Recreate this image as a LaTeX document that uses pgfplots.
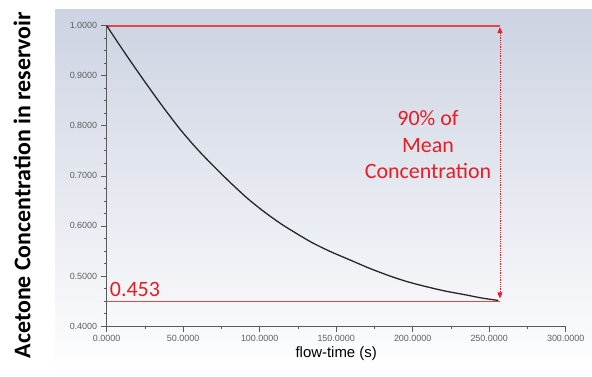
\documentclass[border=0pt]{standalone}
\usepackage{pgfplots}
\pgfplotsset{compat=1.18}
\usepackage{fontspec}
\setmainfont{Liberation Sans}
\newfontfamily\calfont{Carlito}
\usetikzlibrary{arrows.meta}
\definecolor{panelTop}{RGB}{204,211,226}
\definecolor{ticktext}{RGB}{95,95,95}
\definecolor{axisgrey}{RGB}{90,90,90}
\definecolor{annred}{RGB}{232,28,36}
\definecolor{refred}{RGB}{232,70,70}
\begin{document}
\begin{tikzpicture}[x=1bp,y=1bp]
\useasboundingbox (0,0) rectangle (592,376);
\shade[top color=panelTop, bottom color=white] (55,0) rectangle (592,366);
\node[rotate=90, font=\calfont\bfseries\fontsize{24}{26}\selectfont, anchor=center] at (22,191) {Acetone Concentration in reservoir};
\begin{axis}[
  at={(106.7bp,50bp)}, anchor=south west,
  scale only axis, width=459bp, height=300.3bp,
  xmin=0, xmax=300, ymin=0.4, ymax=1.0,
  axis x line*=bottom, axis y line*=left,
  axis line style={axisgrey, line width=0.8pt},
  xtick={0,50,...,300}, ytick={0.4,0.5,...,1.0},
  minor x tick num=1, minor y tick num=3,
  tick align=outside,
  major tick length=6bp, minor tick length=3bp,
  tick style={axisgrey, line width=0.7pt},
  every tick label/.append style={font=\fontsize{9}{10}\selectfont, text=ticktext},
  /pgf/number format/.cd, fixed, fixed zerofill, precision=4, assume math mode=true, /pgfplots/.cd,
  xtick pos=bottom, ytick pos=left,
  xlabel={flow-time (s)},
  xlabel style={font=\fontsize{15}{17}\selectfont, yshift=2bp},
  clip=false,
]
\addplot[refred, line width=1.8pt, no marks, forget plot] coordinates {(0,1.0) (257,1.0)};
\addplot[refred, line width=1.8pt, no marks, forget plot] coordinates {(0,0.449) (257,0.449)};
\addplot[draw=black!85, line width=1.3pt, smooth, no marks] coordinates {
(0,1.000) (12,0.945) (24,0.892) (36,0.841) (48,0.793) (59,0.754) (70,0.719)
(81,0.686) (92,0.655) (103,0.628) (114,0.604) (124,0.585) (134,0.567)
(146,0.549) (159,0.532) (172,0.515) (185,0.500) (196,0.489) (207,0.480)
(221,0.470) (235,0.462) (245,0.456) (256,0.451)
};
\draw[annred, densely dotted, line width=0.8pt, {Triangle[width=5bp,length=6bp]}-{Triangle[width=5bp,length=6bp]}] (axis cs:257,0.997) -- (axis cs:257,0.455);
\node[annred, font=\calfont\fontsize{22}{24}\selectfont, anchor=base west, inner sep=0pt] at (axis cs:2,0.459) {0.453};
\node[annred, font=\calfont\fontsize{22}{26.5}\selectfont, align=center, anchor=center] at (axis cs:210,0.762) {90\% of\\Mean\\Concentration};
\end{axis}
\end{tikzpicture}
\end{document}
